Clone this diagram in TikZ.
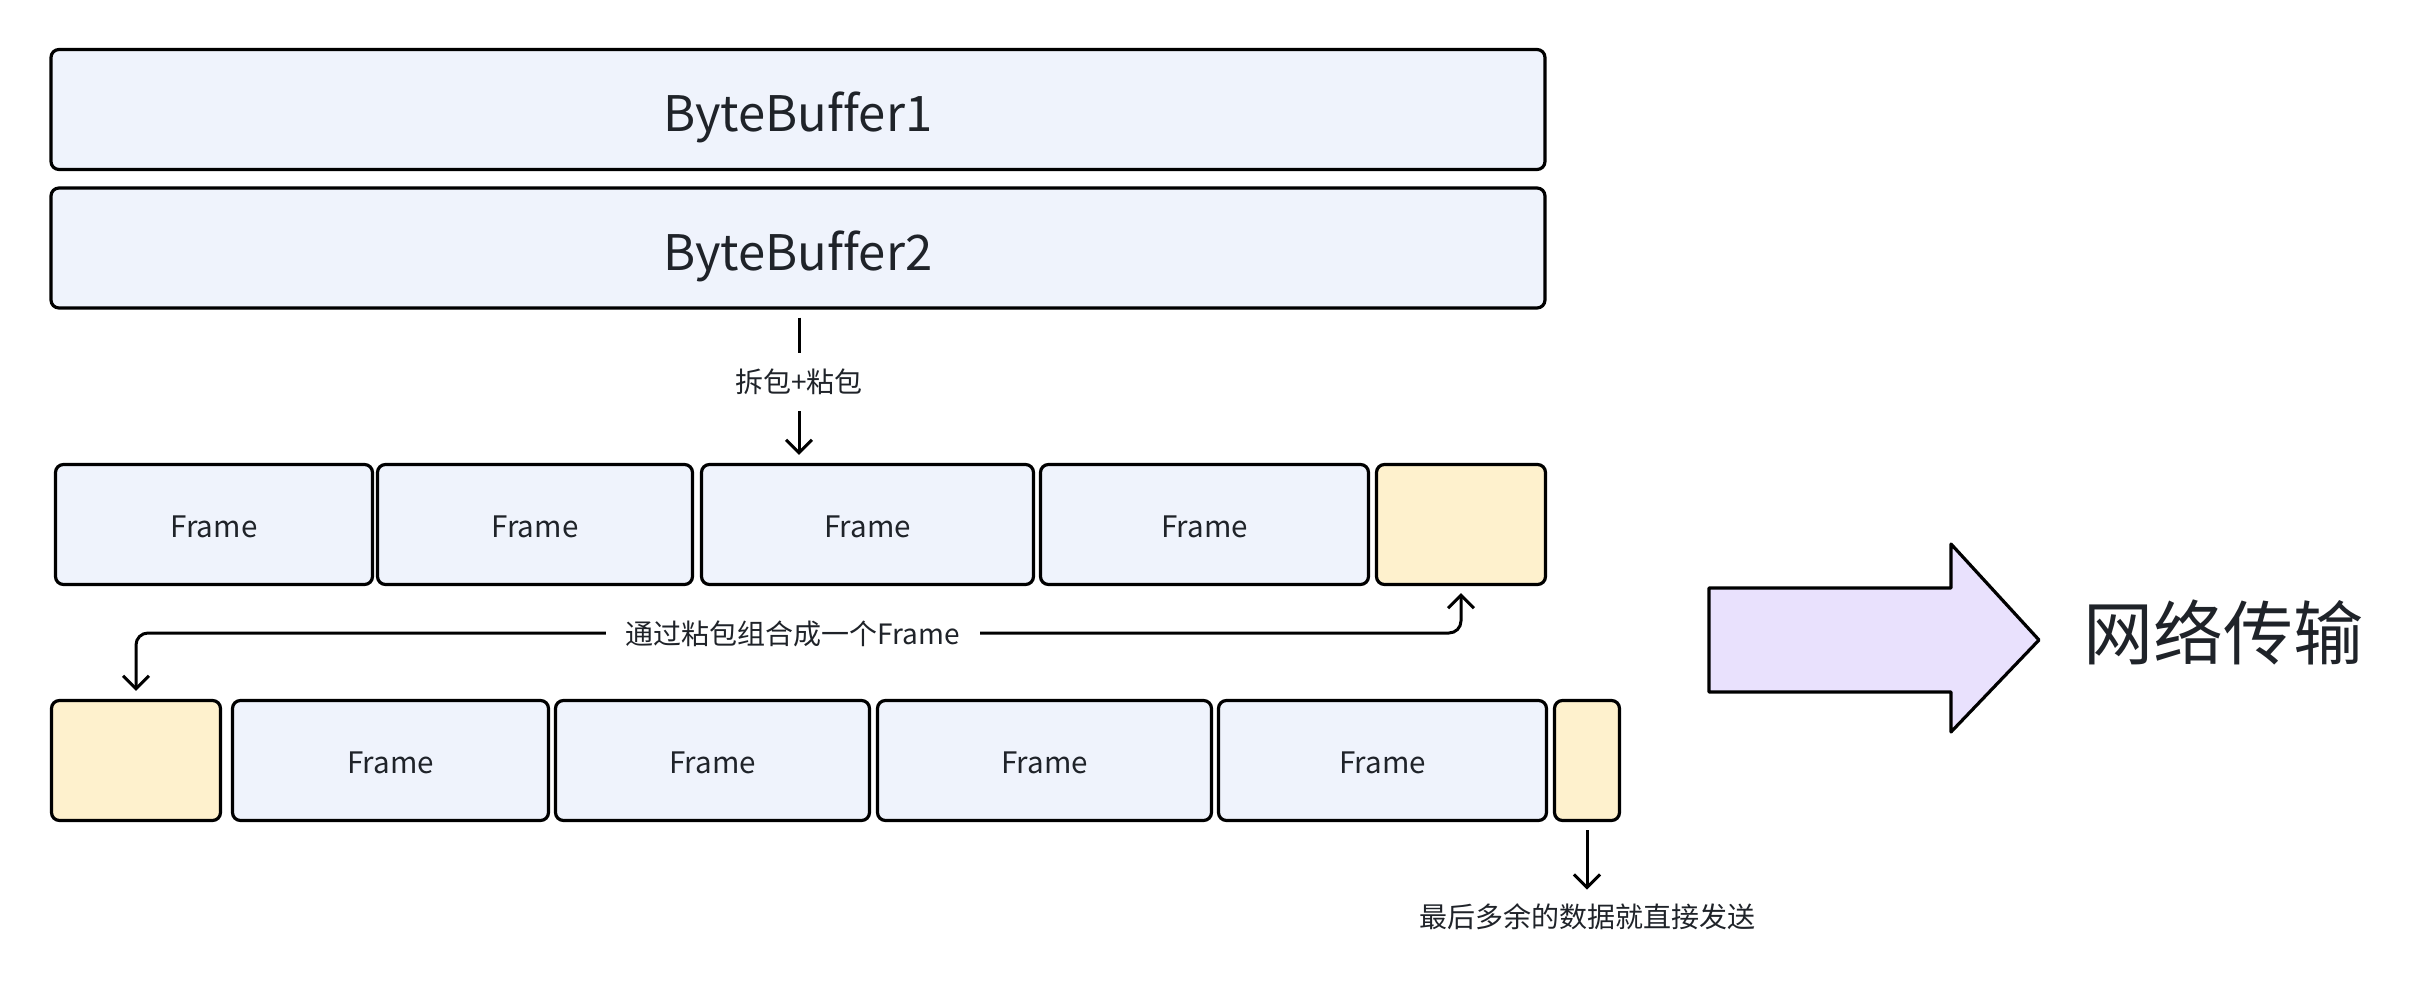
\documentclass[tikz,border=0pt]{standalone}
\usepackage{fontspec}
\setmainfont[Ligatures=NoCommon]{Noto Sans CJK SC}
\usetikzlibrary{arrows.meta}
\definecolor{txt}{HTML}{1F2329}
\definecolor{bluefill}{HTML}{EFF3FC}
\definecolor{yelfill}{HTML}{FEF1CD}
\definecolor{lavfill}{HTML}{E9E1FD}
\tikzset{
  box/.style={draw=black, line width=1.6pt, rounded corners=4pt, fill=bluefill, text=txt, inner sep=0pt, minimum height=60pt},
  ybox/.style={box, fill=yelfill},
  conn/.style={draw=black, line width=1.5pt, -{Straight Barb[length=6.5pt,width=13pt,line width=1.5pt]}},
  lbl/.style={text=txt, font=\fontsize{14pt}{16pt}\selectfont, inner sep=0pt},
  frm/.style={font=\fontsize{14.8pt}{18pt}\selectfont, text height=13.2pt, text depth=0pt},
  bbt/.style={font=\fontsize{24.5pt}{30pt}\selectfont, text height=22.5pt, text depth=0pt},
}
\begin{document}
\begin{tikzpicture}[x=0.5pt, y=-0.5pt]
\useasboundingbox (0,0) rectangle (2416,984);
% ByteBuffers
\node[box, bbt, minimum width=747pt] (bb1) at (798,109.5) {ByteBuffer1};
\node[box, bbt, minimum width=747pt] (bb2) at (798,248) {ByteBuffer2};
% Row 1
\node[box, frm, minimum width=158.5pt] (r1a) at (214,524.5) {Frame};
\node[box, frm, minimum width=157.5pt] (r1b) at (535,524.5) {Frame};
\node[box, frm, minimum width=166pt] (r1c) at (867.5,524.5) {Frame};
\node[box, frm, minimum width=164pt] (r1d) at (1204.5,524.5) {Frame};
\node[ybox, minimum width=84.5pt] (r1e) at (1461,524.5) {};
% Row 2
\node[ybox, minimum width=84.5pt] (r2a) at (136,760.5) {};
\node[box, frm, minimum width=158pt] (r2b) at (390.5,760.5) {Frame};
\node[box, frm, minimum width=157pt] (r2c) at (712.5,760.5) {Frame};
\node[box, frm, minimum width=167pt] (r2d) at (1044.5,760.5) {Frame};
\node[box, frm, minimum width=164pt] (r2e) at (1382.5,760.5) {Frame};
\node[ybox, minimum width=32.5pt] (r2f) at (1587,760.5) {};
% connector 1
\coordinate (c1) at (799,0);
\draw[conn, shorten <=4pt, shorten >=4pt] (bb2.south -| c1) -- (r1c.north -| c1);
\node[lbl, fill=white, inner xsep=2pt, inner ysep=8pt] (l1) at (799,382) {拆包+粘包};
% connector 2
\coordinate (cy) at (0,633);
\draw[conn, {Straight Barb[length=6.5pt,width=13pt,line width=1.5pt]}-{Straight Barb[length=6.5pt,width=13pt,line width=1.5pt]}, rounded corners=6pt, shorten <=4pt, shorten >=3.5pt]
  (r2a.north) -- (r2a.north |- cy) -- (r1e.south |- cy) -- (r1e.south);
\node[lbl, fill=white, inner xsep=10pt, inner ysep=2pt] (l2) at (793,634) {通过粘包组合成一个Frame};
% connector 3
\node[lbl] (l3) at (1587,917) {最后多余的数据就直接发送};
\draw[conn, shorten <=4pt, shorten >=7pt] (r2f.south) -- (l3.north);
% big arrow
\draw[line width=1.6pt, fill=lavfill, line join=round]
  (1709,588) -- (1951,588) -- (1951,544) -- (2039,640) -- (1951,732) -- (1951,692) -- (1709,692) -- cycle;
\node[text=txt, font=\fontsize{35pt}{40pt}\selectfont, inner sep=0pt] (net) at (2223,632) {网络传输};
\end{tikzpicture}
\end{document}
